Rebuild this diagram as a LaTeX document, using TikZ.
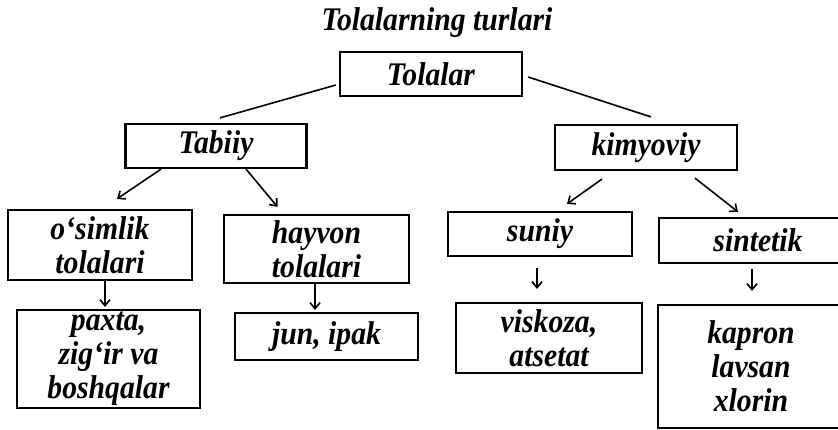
\documentclass[tikz,border=0pt]{standalone}
\usepackage{fontspec}
\setmainfont[FakeStretch=0.9]{Liberation Serif}
\usetikzlibrary{arrows.meta}
\begin{document}
\begin{tikzpicture}[x=1pt,y=-1pt,
  txt/.style={font=\fontsize{33}{34}\selectfont\bfseries\itshape},
  box/.style={txt,draw=black,line width=2.2pt,rectangle,inner sep=0pt,align=center},
  ln/.style={line width=1.6pt},
  arr/.style={line width=1.6pt,-{Straight Barb[length=6pt,width=10pt,line width=1.6pt]}}]
\useasboundingbox (0,0) rectangle (838,430);
\clip (0,0) rectangle (838,430);
\fill[white] (0,0) rectangle (838,430);
\node[txt,anchor=base] (title) at (437,31) {Tolalarning turlari};
\node[box,minimum width=182pt,minimum height=44pt] (tol) at (431,74) {Tolalar};
\node[box,minimum width=181pt,minimum height=44pt] (tab) at (216,146) {Tabiiy};
\node[box,minimum width=182pt,minimum height=45pt] (kim) at (646,147.5) {kimyoviy};
\node[box,minimum width=184pt,minimum height=70pt] (os) at (100,245) {o‘simlik\\tolalari};
\node[box,minimum width=185pt,minimum height=68pt] (hay) at (316.5,249) {hayvon\\tolalari};
\node[box,minimum width=184pt,minimum height=44pt] (sun) at (540,234) {suniy};
\node[box,minimum width=198pt,minimum height=45pt] (sin) at (758,240.5) {sintetik};
\node[box,minimum width=183pt,minimum height=98pt] (pax) at (108.5,359) {paxta,\\zig‘ir va\\boshqalar};
\node[box,minimum width=183pt,minimum height=47pt] (jun) at (326.5,336.5) {jun, ipak};
\node[box,minimum width=186pt,minimum height=70pt] (vis) at (549,338) {viskoza,\\atsetat};
\node[box,minimum width=186pt,minimum height=123pt] (kap) at (751,366.5) {kapron\\lavsan\\xlorin};
% connectors
\draw[ln] ([xshift=-3pt,yshift=-11pt]tol.west) -- ([xshift=4pt,yshift=5pt]tab.north);
\draw[ln] ([xshift=5pt,yshift=-3pt]tol.east) -- ([xshift=5pt,yshift=7pt]kim.north);
\draw[arr] ([xshift=-55pt]tab.south) -- ([xshift=17pt,yshift=10pt]os.north);
\draw[arr] ([xshift=30pt]tab.south) -- ([xshift=-39pt,yshift=7pt]hay.north);
\draw[arr] ([xshift=-44pt,yshift=-8pt]kim.south) -- ([xshift=27pt,yshift=7pt]sun.north);
\draw[arr] ([xshift=49pt,yshift=-7pt]kim.south) -- ([xshift=-20pt,yshift=5pt]sin.north);
\draw[arr,shorten >=2pt] ([xshift=5pt]os.south) -- ([xshift=5pt]os.south |- pax.north);
\draw[arr,shorten >=2pt] ([xshift=-1.5pt]hay.south) -- ([xshift=-1.5pt]hay.south |- jun.north);
\draw[arr,shorten <=11pt,shorten >=13pt] ([xshift=-3pt]sun.south) -- ([xshift=-3pt]sun.south |- vis.north);
\draw[arr,shorten <=5pt,shorten >=13pt] ([xshift=-6pt]sin.south) -- ([xshift=-6pt]sin.south |- kap.north);
\end{tikzpicture}
\end{document}
